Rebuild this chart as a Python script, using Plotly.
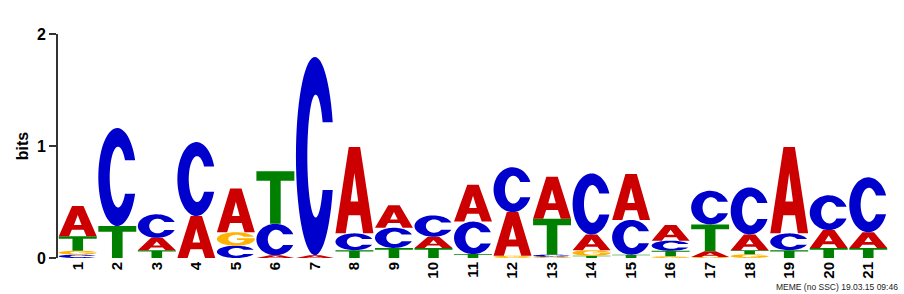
import math
import plotly.graph_objects as go

# ---- data (bits per letter at each motif position) ----
positions = list(range(1, 22))
tick_labels = [str(p) for p in positions]
A_bits = [0.27, 0.0, 0.11, 0.375, 0.39, 0.025, 0.025, 0.77, 0.20, 0.10, 0.33,
          0.39, 0.375, 0.14, 0.41, 0.14, 0.05, 0.14, 0.77, 0.16, 0.14]
C_bits = [0.03, 0.875, 0.21, 0.66, 0.11, 0.28, 1.77, 0.15, 0.18, 0.19, 0.29,
          0.40, 0.02, 0.545, 0.31, 0.09, 0.30, 0.42, 0.15, 0.31, 0.49]
G_bits = [0.035, 0.0, 0.0, 0.0, 0.12, 0.0, 0.0, 0.0, 0.0, 0.0, 0.0,
          0.02, 0.01, 0.05, 0.0, 0.015, 0.01, 0.033, 0.0, 0.0, 0.0]
T_bits = [0.13, 0.285, 0.07, 0.0, 0.0, 0.47, 0.0, 0.07, 0.09, 0.09, 0.035,
          0.0, 0.32, 0.02, 0.03, 0.05, 0.24, 0.037, 0.07, 0.09, 0.09]
footer = "MEME (no SSC) 19.03.15 09:46"

COLORS = {"A": "#CC0000", "C": "#0000CC", "G": "#FFB300", "T": "#008000"}
FONT = "Liberation Sans, Arial, Helvetica, sans-serif"


# ---- unit glyph outlines (0..1 box) ----
def ellipse_pt(cx, cy, rx, ry, deg):
    t = math.radians(deg)
    return (cx + rx * math.cos(t), cy + ry * math.sin(t))


def glyph_C():
    rxo, ryo, rxi, ryi = 0.5, 0.5, 0.22, 0.31
    a0 = 20.0
    yo = ryo * math.sin(math.radians(a0))
    ai = math.degrees(math.asin(min(0.99, yo / ryi)))
    outer = [ellipse_pt(0.5, 0.5, rxo, ryo, a0 + (360 - 2 * a0) * k / 60) for k in range(61)]
    inner = [ellipse_pt(0.52, 0.5, rxi, ryi, (360 - ai) - (360 - 2 * ai) * k / 60) for k in range(61)]
    return [outer + inner]


def glyph_G():
    rxo, ryo, rxi, ryi = 0.5, 0.5, 0.22, 0.31
    a0 = 20.0
    yo = ryo * math.sin(math.radians(a0))
    ai = math.degrees(math.asin(min(0.99, yo / ryi)))
    outer = [ellipse_pt(0.5, 0.5, rxo, ryo, a0 + (360 - a0) * k / 60) for k in range(61)]
    bar = [(1.0, 0.56), (0.53, 0.56), (0.53, 0.43), (0.73, 0.43)]
    inner = [ellipse_pt(0.52, 0.5, rxi, ryi, 335 - (335 - ai) * k / 60) for k in range(61)]
    return [outer + bar + inner]


def glyph_A():
    outer = [(0.0, 0.0), (0.35, 1.0), (0.65, 1.0), (1.0, 0.0), (0.73, 0.0),
             (0.655, 0.21), (0.345, 0.21), (0.27, 0.0)]
    hole = [(0.40, 0.37), (0.60, 0.37), (0.5, 0.70)]
    return [outer, hole]


def glyph_T():
    return [[(0.0, 1.0), (1.0, 1.0), (1.0, 0.82), (0.64, 0.82), (0.64, 0.0),
             (0.36, 0.0), (0.36, 0.82), (0.0, 0.82)]]


GLYPHS = {"A": glyph_A(), "C": glyph_C(), "G": glyph_G(), "T": glyph_T()}


def letter_path(letter, xc, y0, h, w=0.96):
    parts = []
    for poly in GLYPHS[letter]:
        pts = [(xc - w / 2 + px * w, y0 + py * h) for px, py in poly]
        s = "M" + " L".join(f"{x:.4f},{y:.5f}" for x, y in pts) + " Z"
        parts.append(s)
    return " ".join(parts)


shapes = []
series = {"A": A_bits, "C": C_bits, "G": G_bits, "T": T_bits}
for i, pos in enumerate(positions):
    stack = sorted(((series[L][i], L) for L in "ACGT" if series[L][i] > 0))
    base = 0.0
    for h, L in stack:
        shapes.append(dict(type="path", xref="x", yref="y",
                           path=letter_path(L, pos, base, h),
                           fillcolor=COLORS[L], fillrule="evenodd",
                           line=dict(width=0), layer="above"))
        base += h

fig = go.Figure()
fig.add_trace(go.Scatter(x=positions, y=[0] * len(positions), mode="markers",
                         marker=dict(opacity=0), hoverinfo="skip", showlegend=False))

fig.update_layout(
    width=904, height=294,
    margin=dict(l=58, r=16, t=34, b=36),
    paper_bgcolor="white", plot_bgcolor="white",
    shapes=shapes,
    showlegend=False,
    font=dict(family=FONT, color="black"),
    xaxis=dict(range=[0.5, 21.5], tickvals=positions, ticktext=tick_labels,
               tickangle=-90, showline=False, showgrid=False, zeroline=False,
               ticks="", tickfont=dict(size=15, family=FONT, weight="bold"),
               fixedrange=True),
    yaxis=dict(range=[0, 2], tickvals=[0, 1, 2], ticks="outside", ticklen=7,
               tickwidth=2, tickcolor="#333333", showline=True, linecolor="#333333",
               linewidth=2, showgrid=False, zeroline=False,
               tickfont=dict(size=16, family=FONT, weight="bold"),
               title=dict(text="bits", font=dict(size=16, family=FONT, weight="bold"),
                          standoff=4),
               fixedrange=True),
    annotations=[dict(text=footer, xref="paper", yref="paper",
                      x=(900 - 58) / 830, y=(258 - 287) / 224,
                      xanchor="right", yanchor="middle", showarrow=False,
                      font=dict(size=8.5, family=FONT, color="#222222"))],
)

fig.write_html("out.html")
